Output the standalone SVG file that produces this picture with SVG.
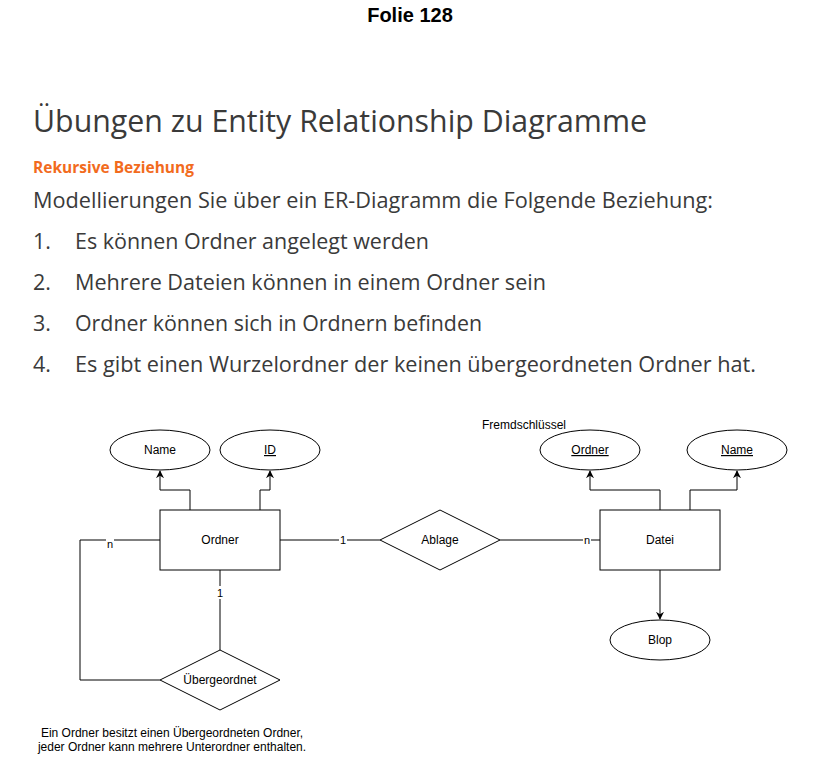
<svg xmlns="http://www.w3.org/2000/svg" width="820" height="760" viewBox="0 0 820 760">
<style>
.slide{font-family:"Open Sans","Noto Sans","Liberation Sans",sans-serif;fill:#3a3a3a}
.t{font-family:"Liberation Sans",Arial,sans-serif;font-size:12px;fill:#000}
.shape{fill:#fff;stroke:#000;stroke-width:1}
.edge{fill:none;stroke:#000;stroke-width:1}
.lbl{font-family:"Liberation Sans",Arial,sans-serif;font-size:11px;fill:#000}
.cap{font-family:"Liberation Sans",Arial,sans-serif;font-size:12px;fill:#000}
</style>
<defs>
<marker id="arr" viewBox="0 0 10 10" refX="9" refY="5" markerWidth="8" markerHeight="8" orient="auto" markerUnits="userSpaceOnUse">
<path d="M0,0 L10,5 L0,10 L3,5 Z" fill="#000"/>
</marker>
</defs>
<rect width="820" height="760" fill="#fff"/>
<text x="410" y="22" text-anchor="middle" font-family="Liberation Sans,Arial,sans-serif" font-weight="bold" font-size="20" fill="#000">Folie 128</text>
<g id="slide-text">
<text class="slide" x="33" y="132" font-size="31" textLength="614" lengthAdjust="spacingAndGlyphs">Übungen zu Entity Relationship Diagramme</text>
<text x="33" y="173" font-family="Open Sans,Noto Sans,sans-serif" font-weight="bold" font-size="16" fill="#f26b1d" textLength="161" lengthAdjust="spacingAndGlyphs">Rekursive Beziehung</text>
<text class="slide" x="33" y="208" font-size="21.5" textLength="680" lengthAdjust="spacingAndGlyphs">Modellierungen  Sie über ein ER-Diagramm  die Folgende Beziehung:</text>
<text class="slide" x="33" y="249" font-size="21.5">1.</text>
<text class="slide" x="75" y="249" font-size="21.5" textLength="354" lengthAdjust="spacingAndGlyphs">Es können Ordner angelegt werden</text>
<text class="slide" x="33" y="290" font-size="21.5">2.</text>
<text class="slide" x="75" y="290" font-size="21.5" textLength="471" lengthAdjust="spacingAndGlyphs">Mehrere  Dateien können in einem Ordner sein</text>
<text class="slide" x="33" y="331" font-size="21.5">3.</text>
<text class="slide" x="75" y="331" font-size="21.5" textLength="407" lengthAdjust="spacingAndGlyphs">Ordner können sich in Ordnern  befinden</text>
<text class="slide" x="33" y="372" font-size="21.5">4.</text>
<text class="slide" x="75" y="372" font-size="21.5" textLength="681" lengthAdjust="spacingAndGlyphs">Es gibt einen Wurzelordner  der keinen übergeordneten  Ordner hat.</text>
</g>
<g id="connectors">
<polyline class="edge" points="190,510 190,490 160,490 160,471" marker-end="url(#arr)"/>
<polyline class="edge" points="260,510 260,490 270,490 270,471" marker-end="url(#arr)"/>
<polyline class="edge" points="660,510 660,490 590,490 590,471" marker-end="url(#arr)"/>
<polyline class="edge" points="690,510 690,490 737,490 737,471" marker-end="url(#arr)"/>
<line class="edge" x1="660" y1="570" x2="660" y2="619" marker-end="url(#arr)"/>
<line class="edge" x1="280" y1="540" x2="380" y2="540"/>
<line class="edge" x1="500" y1="540" x2="600" y2="540"/>
<line class="edge" x1="220" y1="570" x2="220" y2="650"/>
<polyline class="edge" points="160,540 80,540 80,680 160,680"/>
<rect x="339" y="533" width="8" height="13" fill="#fff"/>
<text class="lbl" x="343" y="544" text-anchor="middle">1</text>
<rect x="583" y="533" width="8" height="13" fill="#fff"/>
<text class="lbl" x="587" y="544" text-anchor="middle">n</text>
<rect x="106" y="533" width="8" height="13" fill="#fff"/>
<text class="lbl" x="110" y="548" text-anchor="middle">n</text>
<rect x="216" y="586" width="8" height="13" fill="#fff"/>
<text class="lbl" x="220" y="597" text-anchor="middle">1</text>
</g>
<g id="ordner">
<rect class="shape" x="160" y="510" width="120" height="60"/>
<text class="t" x="220" y="544" text-anchor="middle">Ordner</text>
</g>
<g id="ordner-name">
<ellipse class="shape" cx="160" cy="450" rx="50" ry="20"/>
<text class="t" x="160" y="454" text-anchor="middle">Name</text>
</g>
<g id="ordner-id">
<ellipse class="shape" cx="270" cy="450" rx="50" ry="20"/>
<text class="t" x="270" y="454" text-anchor="middle" text-decoration="underline">ID</text>
</g>
<g id="ablage">
<polygon class="shape" points="380,540 440,510 500,540 440,570"/>
<text class="t" x="440" y="544" text-anchor="middle">Ablage</text>
</g>
<g id="datei">
<rect class="shape" x="600" y="510" width="120" height="60"/>
<text class="t" x="660" y="544" text-anchor="middle">Datei</text>
</g>
<g id="datei-ordner">
<ellipse class="shape" cx="590" cy="450" rx="50" ry="20"/>
<text class="t" x="590" y="454" text-anchor="middle" text-decoration="underline">Ordner</text>
</g>
<g id="datei-name">
<ellipse class="shape" cx="737" cy="450" rx="50" ry="20"/>
<text class="t" x="737" y="454" text-anchor="middle" text-decoration="underline">Name</text>
</g>
<g id="blop">
<ellipse class="shape" cx="660" cy="640" rx="50" ry="20"/>
<text class="t" x="660" y="644" text-anchor="middle">Blop</text>
</g>
<g id="uebergeordnet">
<polygon class="shape" points="160,680 220,650 280,680 220,710"/>
<text class="t" x="220" y="684" text-anchor="middle">Übergeordnet</text>
</g>
<g id="fremdschluessel">
<text class="t" x="482" y="429" font-size="12.8">Fremdschlüssel</text>
</g>
<g id="caption">
<text class="cap" x="172" y="737" text-anchor="middle">Ein Ordner besitzt einen Übergeordneten Ordner,</text>
<text class="cap" x="172" y="751" text-anchor="middle">jeder Ordner kann mehrere Unterordner enthalten.</text>
</g>
</svg>
